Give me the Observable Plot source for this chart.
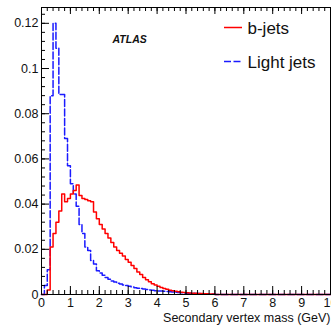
<!DOCTYPE html>
<html>
<head>
<meta charset="utf-8">
<script src="https://cdn.jsdelivr.net/npm/d3@7"></script>
<script src="https://cdn.jsdelivr.net/npm/@observablehq/plot@0.6"></script>
<style>
  html, body { margin: 0; padding: 0; background: #fff; }
  #chart { width: 331px; height: 326px; overflow: hidden; }
</style>
</head>
<body>
<div id="chart"></div>
<script>
// Histogram bins: 0.1 GeV wide, from 0 to 10 GeV (100 bins), normalised to unit area
const binWidth = 0.1;
const bJets = [
  0, 0, 0.002, 0.021, 0.027, 0.032, 0.037, 0.0445, 0.041, 0.0425,
  0.0445, 0.046, 0.0485, 0.0438, 0.0425, 0.042, 0.0415, 0.041, 0.0365, 0.0335,
  0.031, 0.029, 0.027, 0.025, 0.023, 0.021, 0.0195, 0.0183, 0.017, 0.0155,
  0.0143, 0.0128, 0.0115, 0.0100, 0.0088, 0.0075, 0.0065, 0.0056, 0.0048, 0.0042,
  0.0036, 0.0031, 0.0027, 0.0023, 0.0019, 0.0017, 0.0014, 0.0012, 0.0010, 0.0009,
  0.0008, 0.0007, 0.0006, 0.0005, 0.0004, 0.0004, 0.0003, 0.0003, 0.0002, 0.0002,
  0, 0, 0, 0, 0, 0, 0, 0, 0, 0,
  0, 0, 0, 0, 0, 0, 0, 0, 0, 0,
  0, 0, 0, 0, 0, 0, 0, 0, 0, 0,
  0, 0, 0, 0, 0, 0, 0, 0, 0, 0
];
const lightJets = [
  0, 0.004, 0.011, 0.088, 0.120, 0.109, 0.0885, 0.0885, 0.069, 0.057,
  0.049, 0.0445, 0.039, 0.031, 0.027, 0.021, 0.0195, 0.015, 0.0135, 0.0105,
  0.0095, 0.0085, 0.0075, 0.0068, 0.006, 0.0055, 0.005, 0.0046, 0.0042, 0.004,
  0.0036, 0.0033, 0.003, 0.0028, 0.0026, 0.0024, 0.0022, 0.002, 0.0019, 0.0017,
  0.0016, 0.0015, 0.0014, 0.0013, 0.0012, 0.0011, 0.001, 0.0009, 0.0008, 0.0007,
  0.0006, 0.0005, 0.0005, 0.0004, 0.0004, 0.0003, 0.0003, 0.0002, 0.0002, 0.0002,
  0, 0, 0, 0, 0, 0, 0, 0, 0, 0,
  0, 0, 0, 0, 0, 0, 0, 0, 0, 0,
  0, 0, 0, 0, 0, 0, 0, 0, 0, 0,
  0, 0, 0, 0, 0, 0, 0, 0, 0, 0
];
const seriesNames = ["b-jets", "Light jets"];
const seriesColors = ["#ff0000", "#1a1aff"];
const xTicks = [0, 1, 2, 3, 4, 5, 6, 7, 8, 9, 10];
const xTickLabels = ["0", "1", "2", "3", "4", "5", "6", "7", "8", "9", "10"];
const yTicks = [0, 0.02, 0.04, 0.06, 0.08, 0.1, 0.12];
const yTickLabels = ["0", "0.02", "0.04", "0.06", "0.08", "0.1", "0.12"];
const xTitle = "Secondary vertex mass (GeV)";
const experimentLabel = "ATLAS";

// layout
const W = 331, H = 326;
const mL = 41, mR = 1, mT = 7, mB = 32;
const innerW = W - mL - mR, innerH = H - mT - mB;
const majorLen = 8, minorLen = 4;

const xMinor = d3.range(0, 10.0001, 0.2);
const yMinor = d3.range(0, 0.1265, 0.004);

function steps(values) {
  const pts = values.map((v, i) => ({x: i * binWidth, y: v}));
  pts.push({x: values.length * binWidth, y: values[values.length - 1]});
  return pts;
}

function legendSwatches(index, scales, values, dimensions) {
  const g = d3.create("svg:g");
  g.append("line").attr("x1", 224).attr("x2", 242).attr("y1", 27.5).attr("y2", 27.5)
    .attr("stroke", seriesColors[0]).attr("stroke-width", 1.5);
  g.append("line").attr("x1", 224).attr("x2", 242).attr("y1", 61.5).attr("y2", 61.5)
    .attr("stroke", seriesColors[1]).attr("stroke-width", 1.5).attr("stroke-dasharray", "7,2.5");
  return g.node();
}

const fmtX = d => xTickLabels[xTicks.indexOf(d)];
const fmtY = d => yTickLabels[yTicks.indexOf(d)];

const chart = Plot.plot({
  width: W,
  height: H,
  marginLeft: mL,
  marginRight: mR,
  marginTop: mT,
  marginBottom: mB,
  style: {fontFamily: "'Liberation Sans', Arial, Helvetica, sans-serif", fontSize: "12.5px", color: "#111", background: "#fff", overflow: "visible"},
  x: {domain: [0, 10], ticks: xTicks},
  y: {domain: [0, 0.127], ticks: yTicks},
  marks: [
    Plot.lineY(steps(lightJets), {x: "x", y: "y", curve: "step-after", stroke: seriesColors[1], strokeWidth: 1.5, strokeDasharray: "7,2.5"}),
    Plot.lineY(steps(bJets), {x: "x", y: "y", curve: "step-after", stroke: seriesColors[0], strokeWidth: 1.5}),
    Plot.frame({stroke: "#000", strokeWidth: 1}),
    // bottom ticks (inward)
    Plot.tickX(xMinor, {x: d => d, insetTop: innerH - minorLen, stroke: "#000"}),
    Plot.tickX(xTicks, {x: d => d, insetTop: innerH - majorLen, stroke: "#000"}),
    // top ticks (inward)
    Plot.tickX(xMinor, {x: d => d, insetBottom: innerH - minorLen, stroke: "#000"}),
    Plot.tickX(xTicks, {x: d => d, insetBottom: innerH - majorLen + 1, stroke: "#000"}),
    // left ticks (inward)
    Plot.tickY(yMinor, {y: d => d, insetRight: innerW - minorLen, stroke: "#000"}),
    Plot.tickY(yTicks, {y: d => d, insetRight: innerW - majorLen, stroke: "#000"}),
    Plot.axisX(xTicks, {tickSize: 0, tickPadding: 4, tickFormat: fmtX, label: null, fill: "#111"}),
    Plot.axisY(yTicks, {tickSize: 0, tickPadding: 3, tickFormat: fmtY, label: null, fill: "#111"}),
    Plot.text([xTitle], {frameAnchor: "bottom-right", textAnchor: "end", lineAnchor: "bottom", dy: 27, dx: 0, fontSize: 12.5, fill: "#111"}),
    Plot.text([experimentLabel], {frameAnchor: "top-left", textAnchor: "start", lineAnchor: "bottom", dx: 71, dy: 35, fontSize: 10.5, fontWeight: "bold", fontStyle: "italic", fill: "#111"}),
    Plot.text([seriesNames[0]], {frameAnchor: "top-left", textAnchor: "start", lineAnchor: "bottom", dx: 206, dy: 26.5, fontSize: 17, fill: "#111"}),
    Plot.text([seriesNames[1]], {frameAnchor: "top-left", textAnchor: "start", lineAnchor: "bottom", dx: 206, dy: 60, fontSize: 17, fill: "#111"}),
    legendSwatches
  ]
});
document.getElementById("chart").appendChild(chart);
</script>
</body>
</html>
